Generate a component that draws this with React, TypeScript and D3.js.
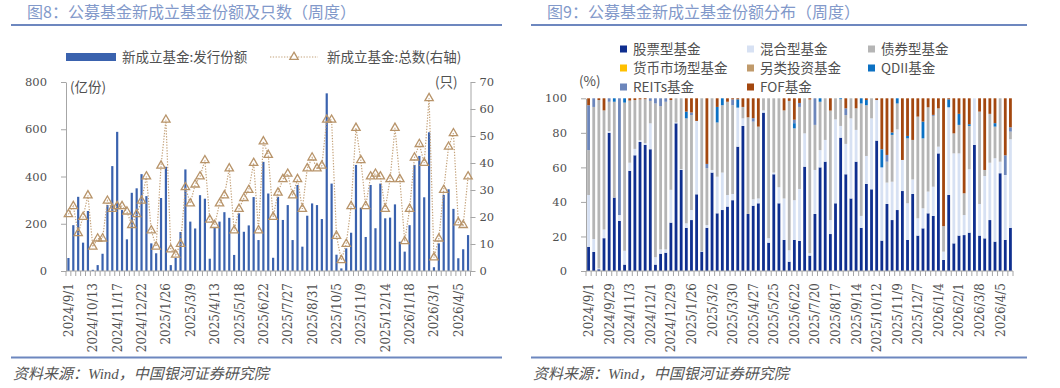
import React, { useRef, useEffect } from "react";
import * as d3 from "d3";

// weekly dates (holiday weeks missing in the source data)
const dates = [
  "2024/9/1", "2024/9/8", "2024/9/15", "2024/9/22", "2024/9/29", "2024/10/13", "2024/10/20", "2024/10/27", "2024/11/3", "2024/11/10",
  "2024/11/17", "2024/11/24", "2024/12/1", "2024/12/8", "2024/12/15", "2024/12/22", "2024/12/29", "2025/1/5", "2025/1/12", "2025/1/19",
  "2025/1/26", "2025/2/9", "2025/2/16", "2025/2/23", "2025/3/2", "2025/3/9", "2025/3/16", "2025/3/23", "2025/3/30", "2025/4/6",
  "2025/4/13", "2025/4/20", "2025/4/27", "2025/5/4", "2025/5/11", "2025/5/18", "2025/5/25", "2025/6/1", "2025/6/8", "2025/6/15",
  "2025/6/22", "2025/6/29", "2025/7/6", "2025/7/13", "2025/7/20", "2025/7/27", "2025/8/3", "2025/8/10", "2025/8/17", "2025/8/24",
  "2025/8/31", "2025/9/7", "2025/9/14", "2025/9/21", "2025/9/28", "2025/10/5", "2025/10/12", "2025/10/19", "2025/10/26", "2025/11/2",
  "2025/11/9", "2025/11/16", "2025/11/23", "2025/11/30", "2025/12/7", "2025/12/14", "2025/12/21", "2025/12/28", "2026/1/4", "2026/1/11",
  "2026/1/18", "2026/1/25", "2026/2/1", "2026/2/8", "2026/2/15", "2026/3/1", "2026/3/8", "2026/3/15", "2026/3/22", "2026/3/29",
  "2026/4/5", "2026/4/12", "2026/4/19",
];

// fig 8: issued shares (亿份) and number of new funds (只)
const issueShares = [
  55, 194, 314, 120, 254, 5, 25, 73, 279, 444,
  589, 258, 134, 331, 350, 410, 317, 117, 75, 309,
  441, 25, 55, 165, 430, 209, 180, 321, 306, 52,
  186, 209, 249, 225, 68, 244, 166, 193, 313, 131,
  462, 328, 56, 314, 216, 279, 131, 364, 103, 234,
  286, 279, 220, 752, 370, 69, 11, 96, 162, 449,
  268, 144, 364, 181, 370, 223, 226, 282, 124, 82,
  194, 449, 487, 312, 587, 16, 117, 322, 346, 263,
  54, 92, 152,
];
const fundCount = [
  21, 24, 14, 20, 28, 9, 12, 12, 26, 23,
  24, 24, 22, 17, 21, 26, 35, 15, 9, 39,
  56, 8, 6, 10, 31, 25, 32, 35, 41, 19,
  17, 25, 28, 38, 15, 23, 27, 30, 40, 15,
  48, 43, 20, 29, 34, 36, 28, 34, 23, 38,
  42, 38, 39, 56, 56, 13, 4, 10, 24, 53,
  41, 24, 35, 36, 35, 23, 34, 53, 34, 11,
  23, 42, 47, 40, 64, 5, 12, 30, 46, 51,
  18, 17, 35,
];

// fig 9: share distribution (%)
const stockPct = [
  14, 11, 1, 19, 80, 42.5, 29, 3.7, 58, 67,
  74.7, 73, 70.5, 3.7, 10, 10.6, 28, 85.5, 58.5, 25,
  29.5, 44.4, 11.2, 25, 57, 33.4, 35.3, 37.3, 41, 72,
  84, 33, 37.8, 39.2, 91.7, 16.4, 56, 39.2, 18, 5.4,
  18, 17.4, 60.4, 8.9, 33, 60, 63.3, 21.4, 39.2, 77.2,
  56, 42, 63.3, 25, 50.4, 47.3, 75.5, 17.6, 38.8, 29.5,
  35.3, 46.3, 18, 44.6, 20.5, 24.7, 33.4, 31.9, 68.1, 6.4,
  44, 16, 20.5, 20.8, 22.2, 73, 20.5, 18.9, 29.5, 17,
  56.6, 18, 25,
];
const mixedPct = [
  30, 7.5, 0.5, 5, 1, 0, 3.4, 8, 4.7, 3.7,
  1, 1, 15, 4.3, 2.5, 1.9, 19, 0.5, 0.5, 2.6,
  5.8, 42.5, 0.3, 1.6, 1.5, 21.2, 21.7, 6.7, 3.6, 22.6,
  4.4, 0, 3.7, 2.8, 1.3, 2.6, 1, 9.3, 24, 6.6,
  23, 30.1, 19.3, 1.4, 25.5, 10, 12.6, 8.1, 48.6, 6.8,
  17.6, 46.4, 18.4, 6.9, 16.2, 41.1, 23.5, 42.4, 12.4, 22.2,
  46.7, 18, 21.2, 8.4, 10, 11.6, 12.6, 16.9, 3.9, 4.8,
  50.8, 52.1, 47.6, 11.6, 36.7, 27, 18.3, 36.1, 33.2, 48.3,
  6.7, 37.6, 51.3,
];
const bondPct = [
  26, 76.5, 97.5, 69, 17, 55.5, 0, 85.8, 36, 28.3,
  23.7, 25.5, 13, 89, 83, 85.5, 52, 14, 41, 60.8,
  55, 0, 88.5, 32.9, 41.5, 31.4, 39, 54, 51.4, 0,
  6.6, 56, 45, 41.6, 7, 81, 43, 51.5, 51, 86.5,
  41.6, 47.5, 20.3, 89, 26.1, 28, 24.1, 63.4, 12.2, 15.5,
  16.7, 11.6, 12.5, 65.1, 29.4, 11.6, 0, 0, 12.1, 27.1,
  15, 0, 37.6, 22.9, 58.9, 40.5, 48.8, 41, 22.2, 14.8,
  0, 11.6, 16.5, 12.6, 25.1, 0, 53.5, 3.5, 28.3, 18.3,
  36.7, 0, 4.4,
];
const moneyPct = [
  0, 0, 0, 0, 0, 0, 0, 0, 0, 0, 0, 0, 0, 0, 0, 0, 0, 0, 0, 0,
  0, 0, 0, 0, 0, 0, 0, 0, 0, 0, 0, 0, 0, 0, 0, 0, 0, 0, 0, 0,
  0, 0, 0, 0, 0, 0, 0, 0, 0, 0, 0, 0, 0, 0, 0, 0, 0, 0, 0, 0,
  0, 0, 0, 0, 0, 0, 0, 0, 0, 0, 0, 0, 0, 0, 0, 0, 0, 0, 0, 0,
  0, 0, 0,
];
const altPct = [
  0, 0, 0, 0, 0, 0, 0, 0, 0, 0, 0, 0, 0, 0, 0, 0, 0, 0, 0, 0,
  0, 0, 0, 0, 0, 0, 0, 0, 0, 0, 0, 0, 0, 0, 0, 0, 0, 0, 0, 0,
  0, 0, 0, 0, 0, 0, 0, 0, 0, 0, 0, 0, 0, 0, 0, 0, 0, 0, 0, 0,
  0, 0, 0, 0, 0, 0, 0, 0, 0, 0, 0, 0, 0, 0, 0, 0, 0, 0, 0, 0,
  0, 0, 0,
];
const qdiiPct = [
  0, 0, 0, 0, 0, 2, 0, 2.5, 0, 0,
  0, 0, 0, 0, 0, 0, 0, 0, 0, 3.9,
  0, 0, 0, 0, 0, 9, 4, 0, 0, 4.8,
  0, 0, 0, 0, 0, 0, 0, 0, 0, 0,
  3, 0, 0, 0, 0, 2, 0, 0, 0, 0.5,
  0, 0, 0, 3, 3, 0, 0, 10.5, 0, 1.4,
  3, 0, 1.4, 0, 0, 9.7, 0, 0, 0, 0,
  4.6, 0, 6.4, 0, 1, 0, 0, 0, 0, 2,
  0, 0, 0,
];
const reitsPct = [
  26, 5, 0, 0, 2, 0, 67.6, 0, 0, 0,
  0, 0, 1.5, 3, 4.5, 2, 0, 0, 0, 0,
  1.5, 0, 0, 2.5, 0, 0, 0, 0, 3.4, 0,
  0, 0, 2, 0, 0, 0, 0, 0, 0, 0,
  2, 2.3, 0, 0, 15.4, 0, 0, 0, 0, 0,
  3.9, 0, 0, 0, 0, 0, 0, 0, 3.9, 0,
  0, 0, 0, 0, 0, 0, 0, 0.6, 0, 0,
  0, 0, 0, 0, 0, 0, 0, 0, 0, 0,
  0, 11.4, 2.5,
];
const fofPct = [
  4, 0, 1, 7, 0, 0, 0, 0, 1.3, 1,
  0.6, 0.5, 0, 0, 0, 0, 1, 0, 0, 7.7,
  8.2, 13.1, 0, 38, 0, 5, 0, 2, 0.6, 0.6,
  5, 11, 11.5, 16.4, 0, 0, 0, 0, 7, 1.5,
  12.4, 2.7, 0, 0.7, 0, 0, 0, 7.1, 0, 0,
  5.8, 0, 5.8, 0, 1, 0, 1, 29.5, 32.8, 19.8,
  0, 35.7, 21.8, 24.1, 10.6, 13.5, 5.2, 9.6, 5.8, 74,
  0.6, 20.3, 9, 55, 15, 0, 7.7, 41.5, 9, 14.4,
  0, 33, 16.8,
];

const seriesKeys = ["stock", "mixed", "bond", "money", "alt", "qdii", "reits", "fof"];
const seriesNames = ["股票型基金", "混合型基金", "债券型基金", "货币市场型基金", "另类投资基金", "QDII基金", "REITs基金", "FOF基金"];
const seriesColors = ["#0f2f8f", "#d7e1f3", "#b5b5b5", "#ffc000", "#c09a6b", "#0c71c3", "#6c86bb", "#a3470f"];
const seriesValues = [stockPct, mixedPct, bondPct, moneyPct, altPct, qdiiPct, reitsPct, fofPct];

const NUM_FONT = '"DejaVu Serif", "Noto Sans CJK SC", serif';
const CJK_FONT = '"Noto Sans CJK SC", "Liberation Serif", sans-serif';
const TXT = "#505050";
const AXIS = "#a6a6a6";

const App = () => {
  const svgRef = useRef(null);

  useEffect(() => {
    document.body.style.margin = "0";
    const svg = d3.select(svgRef.current);
    svg.selectAll("*").remove();

    // panel frame: title, rules, source
    function frame(x0, x1, title, titleX) {
      svg.append("text").attr("x", titleX).attr("y", 18)
        .attr("font-family", CJK_FONT).attr("font-size", 16).attr("fill", "#8299ca")
        .text(title);
      svg.append("line").attr("x1", x0).attr("x2", x1).attr("y1", 25).attr("y2", 25)
        .attr("stroke", "#6d87bf").attr("stroke-width", 2);
      svg.append("line").attr("x1", x0).attr("x2", x1).attr("y1", 357.5).attr("y2", 357.5)
        .attr("stroke", "#6d87bf").attr("stroke-width", 2);
      svg.append("text").attr("x", x0 + 2).attr("y", 379)
        .attr("font-family", '"Liberation Serif", "Noto Sans CJK SC", serif')
        .attr("font-style", "italic").attr("font-size", 15).attr("fill", "#555")
        .text("资料来源：Wind，中国银河证券研究院");
    }

    function styleAxis(g) {
      g.select(".domain").attr("stroke", AXIS);
      g.selectAll(".tick line").attr("stroke", AXIS);
      g.selectAll(".tick text").attr("font-family", NUM_FONT).attr("font-size", 11.5).attr("fill", TXT);
    }

    // bottom category axis with ticks between categories and rotated labels
    function catAxis(x, y0, every) {
      const g = svg.append("g");
      const [r0, r1] = x.range();
      g.append("line").attr("x1", r0).attr("x2", r1).attr("y1", y0).attr("y2", y0).attr("stroke", AXIS);
      const bounds = d3.range(dates.length + 1).map(i => r0 + i * x.step());
      g.selectAll("line.tk").data(bounds).enter().append("line")
        .attr("x1", d => d).attr("x2", d => d).attr("y1", y0).attr("y2", y0 + 5)
        .attr("stroke", AXIS);
      g.selectAll("text").data(dates.filter((_, i) => i % every === 0)).enter().append("text")
        .attr("transform", d => `translate(${x(d) + x.bandwidth() / 2 + 4.5},${y0 + 12}) rotate(-90)`)
        .attr("text-anchor", "end")
        .attr("font-family", NUM_FONT).attr("font-size", 12).attr("fill", TXT)
        .text(d => d);
    }

    //---------------- left chart
    frame(11, 502, "图8：公募基金新成立基金份额及只数（周度）", 27);
    const xL = d3.scaleBand().domain(dates).range([66, 470.5]);
    const xi = (i) => xL(dates[i]) + xL.bandwidth() / 2;
    const yL = d3.scaleLinear().domain([0, 800]).range([271, 82]);
    const yR = d3.scaleLinear().domain([0, 70]).range([271, 82]);

    svg.append("g").selectAll("rect").data(issueShares).enter().append("rect")
      .attr("x", (_, i) => xi(i) - 1.1).attr("width", 2.2)
      .attr("y", d => yL(d)).attr("height", d => yL(0) - yL(d))
      .attr("fill", "#3a62ae");

    const axL = svg.append("g").attr("transform", "translate(66,0)")
      .call(d3.axisLeft(yL).tickValues([0, 200, 400, 600, 800]).tickSize(5).tickSizeOuter(0).tickPadding(14));
    styleAxis(axL);
    const axR = svg.append("g").attr("transform", "translate(470.5,0)")
      .call(d3.axisRight(yR).tickValues(d3.range(0, 71, 10)).tickSize(5).tickSizeOuter(0).tickPadding(4));
    styleAxis(axR);
    catAxis(xL, 271, 5);

    // count line
    const line = d3.line().x((_, i) => xi(i)).y(d => yR(d));
    svg.append("path").datum(fundCount).attr("d", line)
      .attr("fill", "none").attr("stroke", "#c4a27a").attr("stroke-width", 1.2)
      .attr("stroke-dasharray", "1.3 1.5");
    const tri = d3.symbol().type(d3.symbolTriangle).size(30);
    svg.append("g").selectAll("path").data(fundCount).enter().append("path")
      .attr("d", tri)
      .attr("transform", (d, i) => `translate(${xi(i)},${yR(d)})`)
      .attr("fill", "none").attr("stroke", "#b8946a").attr("stroke-width", 1.3);

    svg.append("text").attr("x", 70).attr("y", 92).attr("font-family", CJK_FONT)
      .attr("font-size", 13.5).attr("fill", TXT).text("(亿份)");
    svg.append("text").attr("x", 435).attr("y", 87).attr("font-family", CJK_FONT)
      .attr("font-size", 13.5).attr("fill", TXT).text("(只)");

    // legend
    svg.append("rect").attr("x", 66).attr("y", 53).attr("width", 50).attr("height", 8).attr("fill", "#3a62ae");
    svg.append("text").attr("x", 122).attr("y", 62).attr("font-family", CJK_FONT)
      .attr("font-size", 13.5).attr("fill", TXT).text("新成立基金:发行份额");
    svg.append("line").attr("x1", 270).attr("x2", 318).attr("y1", 57).attr("y2", 57)
      .attr("stroke", "#c4a27a").attr("stroke-width", 1.2).attr("stroke-dasharray", "1.3 1.5");
    svg.append("path").attr("d", tri).attr("transform", "translate(294,57)")
      .attr("fill", "#fff").attr("stroke", "#b8946a").attr("stroke-width", 1.3);
    svg.append("text").attr("x", 327).attr("y", 62).attr("font-family", CJK_FONT)
      .attr("font-size", 13.5).attr("fill", TXT).text("新成立基金:总数(右轴)");

    //---------------- right chart
    frame(531, 1027, "图9：公募基金新成立基金份额分布（周度）", 547);
    const xP = d3.scaleBand().domain(dates).range([586, 1013]);
    const yP = d3.scaleLinear().domain([0, 100]).range([271, 98.3]);
    const rows = dates.map((_, i) => {
      const r = {};
      seriesKeys.forEach((k, j) => { r[k] = seriesValues[j][i]; });
      return r;
    });
    const stacked = d3.stack().keys(seriesKeys)(rows);
    stacked.forEach((layer, j) => {
      svg.append("g").selectAll("rect").data(layer).enter().append("rect")
        .attr("x", (_, i) => xP(dates[i]) + xP.bandwidth() / 2 - 1.4).attr("width", 2.8)
        .attr("y", d => yP(d[1])).attr("height", d => Math.max(0, yP(d[0]) - yP(d[1])))
        .attr("fill", seriesColors[j]);
    });
    const axP = svg.append("g").attr("transform", "translate(586,0)")
      .call(d3.axisLeft(yP).tickValues(d3.range(0, 101, 20)).tickSize(5).tickSizeOuter(0).tickPadding(14));
    styleAxis(axP);
    catAxis(xP, 271, 4);
    svg.append("text").attr("x", 579).attr("y", 86).attr("font-family", CJK_FONT)
      .attr("font-size", 13.5).attr("fill", TXT).text("(%)");

    // legend 3 x 3
    const colX = [620, 747, 868];
    const rowY = [49, 68, 87];
    seriesNames.forEach((name, j) => {
      const cx = colX[j % 3];
      const cy = rowY[Math.floor(j / 3)];
      svg.append("rect").attr("x", cx).attr("y", cy - 3.5).attr("width", 7).attr("height", 7).attr("fill", seriesColors[j]);
      svg.append("text").attr("x", cx + 13).attr("y", cy + 5).attr("font-family", CJK_FONT)
        .attr("font-size", 13.5).attr("fill", TXT).text(name);
    });
  }, []);

  return <svg ref={svgRef} width={1060} height={388} style={{ display: "block", background: "#fff" }} />;
};

export default App;
